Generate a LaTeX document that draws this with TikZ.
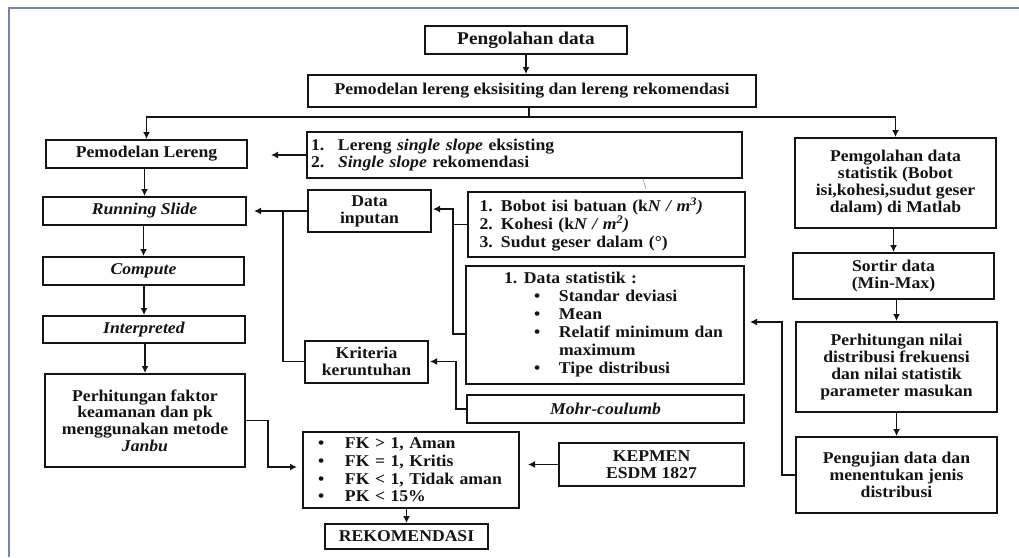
\documentclass[tikz,border=0pt]{standalone}
\usepackage{fontspec}
\setmainfont{Liberation Serif}[FakeStretch=1.07]
\usetikzlibrary{arrows.meta,calc}
\definecolor{boxcol}{RGB}{20,20,20}
\definecolor{framecol}{RGB}{115,132,165}
\definecolor{tickcol}{RGB}{150,150,150}
\tikzset{
  box/.style={draw=boxcol, line width=2pt, inner sep=0pt, text=boxcol,
    font=\bfseries\fontsize{16.5}{17.3}\selectfont},
  bx/.style 2 args={box, align=center, minimum width=#1pt, minimum height=#2pt},
  lbx/.style 2 args={box, align=left, text width=#1pt, minimum height=#2pt, inner xsep=0pt},
  arr/.style={draw=boxcol, line width=1.8pt, -{Latex[length=7pt,width=7pt]}},
  ln/.style={draw=boxcol, line width=1.8pt},
}
\begin{document}
\begin{tikzpicture}[x=1pt,y=-1pt]
\useasboundingbox (0,0) rectangle (1019,557);
\fill[white] (0,0) rectangle (1019,557);
\draw[framecol, line width=1.2pt] (9,557) -- (9,8) -- (1019,8);

% top
\node[bx={202}{28}, font=\bfseries\fontsize{18}{20}\selectfont] (p1) at (526,40) {Pengolahan data};
\node[bx={448}{32}] (p2) at (532,91) {Pemodelan lereng eksisiting dan lereng rekomendasi};

% left column
\node[bx={201}{28}] (pl) at (146.5,154) {Pemodelan Lereng};
\node[bx={203}{28}] (rs) at (144.5,211) {\textit{Running Slide}};
\node[bx={201}{28}] (cp) at (143.5,271) {\textit{Compute}};
\node[bx={202}{27}] (ip) at (144,329.5) {\textit{Interpreted}};
\node[bx={200}{93}, font=\bfseries\fontsize{16.5}{16.7}\selectfont] (pf) at (145,420.5) {Perhitungan faktor\\keamanan dan pk\\menggunakan metode\\\textit{Janbu}};

% middle
\node[lbx={435}{46}] (ls) at (524.5,155) {\hspace*{4pt}\makebox[27pt][l]{1.}Lereng \textit{single slope} eksisting\\\hspace*{4pt}\makebox[27pt][l]{2.}\textit{Single slope} rekomendasi};
\node[bx={123}{42}] (di) at (369.5,211) {Data\\inputan};
\node[bx={123}{42}] (kr) at (366.5,361.5) {Kriteria\\keruntuhan};
\node[lbx={277}{65}, font=\bfseries\fontsize{16.5}{18}\selectfont] (bb) at (606,224.5) {\hspace*{12pt}1. Bobot isi batuan (k\textit{N / m\textsuperscript{3})}\\\hspace*{12pt}2. Kohesi (k\textit{N / m\textsuperscript{2})}\\\hspace*{12pt}3. Sudut geser dalam (°)};
\node[lbx={278}{118}, font=\bfseries\fontsize{16.5}{18}\selectfont] (ds) at (605,325) {\hspace*{38pt}\makebox[20pt][l]{1.}Data statistik :\\\hspace*{68pt}\makebox[25pt][l]{\textbullet}Standar deviasi\\\hspace*{68pt}\makebox[25pt][l]{\textbullet}Mean\\\hspace*{68pt}\makebox[25pt][l]{\textbullet}Relatif minimum dan\\\hspace*{93pt}maximum\\\hspace*{68pt}\makebox[25pt][l]{\textbullet}Tipe distribusi};
\node[bx={277}{28}] (mc) at (605.5,409) {\textit{Mohr-coulumb}};
\node[lbx={216}{76}, font=\bfseries\fontsize{16.5}{17.7}\selectfont] (fk) at (411,470) {\hspace*{15pt}\makebox[27pt][l]{\textbullet}FK > 1, Aman\\\hspace*{15pt}\makebox[27pt][l]{\textbullet}FK = 1, Kritis\\\hspace*{15pt}\makebox[27pt][l]{\textbullet}FK < 1, Tidak aman\\\hspace*{15pt}\makebox[27pt][l]{\textbullet}PK < 15\%};
\node[bx={163}{25}] (rk) at (406.5,536.5) {REKOMENDASI};
\node[bx={185}{43}] (kp) at (651.5,464.5) {KEPMEN\\ESDM 1827};

% right column
\node[bx={201}{90}, font=\bfseries\fontsize{16.5}{16.8}\selectfont] (s1) at (895.5,183) {Pemgolahan data\\statistik (Bobot\\isi,kohesi,sudut geser\\dalam) di Matlab};
\node[bx={201}{46}] (s2) at (893.5,276) {Sortir data\\(Min-Max)};
\node[bx={201}{90}, font=\bfseries\fontsize{16.5}{16.8}\selectfont] (s3) at (896.5,367) {Perhitungan nilai\\distribusi frekuensi\\dan nilai statistik\\parameter masukan};
\node[bx={201}{76}, font=\bfseries\fontsize{16.5}{16.8}\selectfont] (s4) at (896.5,475) {Pengujian data dan\\menentukan jenis\\distribusi};

% junction coordinates
\coordinate (j1) at (529,117);
\coordinate (c1) at (283,211);
\coordinate (c2) at (453,209);
\coordinate (c2b) at (453,334);
\coordinate (c3) at (456,361.5);
\coordinate (c4) at (782,322);
\coordinate (c5) at (268,467);

% top connectors
\draw[arr] (p1.south) -- (p1.south |- p2.north);
\draw[ln] (p2.south -| j1) -- (j1);
\draw[arr] (j1) -| (pl.north);
\draw[arr] (j1) -| (s1.north);

% left column
\draw[arr, shorten >=23pt] (ls.west) -- (ls.west -| pl.east);
\draw[arr] (pl.south -| rs.north) -- (rs.north);
\draw[arr] (rs.south -| cp.north) -- (cp.north);
\draw[arr] (cp.south -| ip.north) -- (ip.north);
\draw[arr] (ip.south -| pf.north) -- (pf.north);

% data inputan / kriteria -> running slide
\draw[ln] (di.west) -- (di.west -| c1);
\draw[arr, shorten >=7pt] (kr.west) -| (c1) -- (c1 -| rs.east);

% bobot / data statistik -> data inputan
\draw[ln] (bb.west) -- (bb.west -| c2);
\draw[arr, shorten >=1pt] (c2b -| ds.west) -- (c2b) -- (c2) -- (c2 -| di.east);

% mohr -> kriteria
\draw[arr, shorten >=1pt] (mc.west) -| (c3) -- (c3 -| kr.east);

% pengujian -> data statistik
\draw[arr, shorten >=5pt] (s4.west) -| (c4) -- (c4 -| ds.east);

% right column arrows
\draw[arr] (s1.south -| s2.north) -- (s2.north);
\draw[arr] (s2.south -| s3.north) -- (s3.north);
\draw[arr] (s3.south -| s4.north) -- (s4.north);

% perhitungan faktor -> FK
\draw[arr, shorten >=5pt] (pf.east) -| (c5) -- (c5 -| fk.west);
% kepmen -> FK
\draw[arr, shorten >=8pt] (kp.west) -- (kp.west -| fk.east);
% FK -> rekomendasi
\draw[arr] (fk.south -| rk.north) -- (rk.north);

% stray tick
\draw[tickcol, line width=0.6pt] (643,179) -- (646,189);
\end{tikzpicture}
\end{document}
